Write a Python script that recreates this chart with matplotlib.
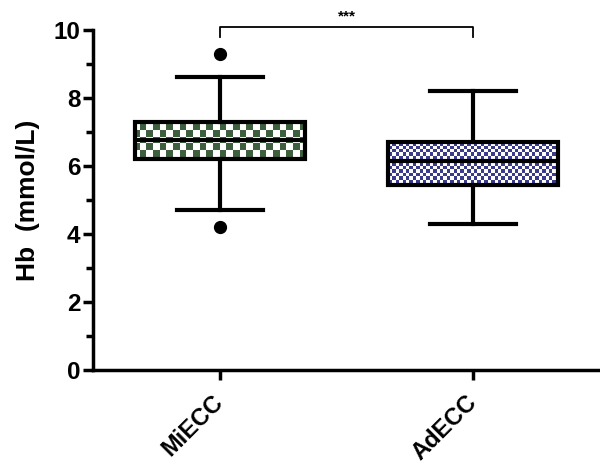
import matplotlib.pyplot as plt
import numpy as np
from matplotlib.colors import ListedColormap

plt.rcParams['font.family'] = ['Liberation Sans', 'DejaVu Sans']

groups = ['MiECC', 'AdECC']
q1 = [6.2, 5.45]
med = [6.75, 6.15]
q3 = [7.3, 6.7]
wlo = [4.7, 4.3]
whi = [8.6, 8.2]
outliers = [[9.3, 4.2], []]
colors = ['#3e5f3e', '#3b3b8c']
cell_px = [6.7, 3.4]


def checker(ax, color, cell, clip):
    # checkerboard texture covering the axes, clipped to the box
    nx = int(round(507 / cell))
    ny = int(round(340 / cell))
    board = np.indices((ny, nx)).sum(axis=0) % 2
    im = ax.imshow(board, cmap=ListedColormap(['white', color]),
                   extent=(0.5, 2.5, 0, 10), aspect='auto',
                   interpolation='nearest', zorder=1)
    im.set_clip_path(clip)


fig = plt.figure(figsize=(6, 4.67), dpi=100)
ax = fig.add_axes([0.155, 0.208, 0.845, 0.728])

stats = []
for i, g in enumerate(groups):
    stats.append(dict(label=g, q1=q1[i], med=med[i], q3=q3[i],
                      whislo=wlo[i], whishi=whi[i], fliers=outliers[i]))

bp = ax.bxp(stats, positions=[1, 2], widths=0.67, patch_artist=True,
            boxprops=dict(facecolor='none', edgecolor='black', linewidth=3, zorder=3),
            medianprops=dict(color='black', linewidth=3, zorder=3),
            whiskerprops=dict(color='black', linewidth=3),
            capprops=dict(color='black', linewidth=3),
            capwidths=0.34,
            flierprops=dict(marker='o', markerfacecolor='black',
                            markeredgecolor='black', markersize=8.5))

for i, box in enumerate(bp['boxes']):
    checker(ax, colors[i], cell_px[i], box)

ax.set_xlim(0.5, 2.5)
ax.set_ylim(0, 10)
ax.set_yticks([0, 2, 4, 6, 8, 10])
ax.set_yticks([1, 3, 5, 7, 9], minor=True)
ax.set_xticklabels(groups, rotation=45, ha='right', va='center',
                   rotation_mode='anchor', fontsize=17, fontweight='bold')
ax.tick_params(axis='y', which='major', labelsize=17.5, width=2.5, length=7, pad=2)
ax.tick_params(axis='y', which='minor', width=2.5, length=5)
ax.tick_params(axis='x', width=2.5, length=7, pad=14)
for lbl in ax.get_yticklabels():
    lbl.set_fontweight('bold')
ax.set_ylabel('Hb  (mmol/L)', fontsize=19, fontweight='bold', labelpad=10)

for s in ['top', 'right']:
    ax.spines[s].set_visible(False)
for s in ['left', 'bottom']:
    ax.spines[s].set_linewidth(2.5)

# significance bracket
ax.plot([1, 1, 2, 2], [9.8, 10.08, 10.08, 9.8], color='black', lw=1.3, clip_on=False)
ax.text(1.5, 10.2, '***', ha='center', va='bottom', fontsize=11, fontweight='bold')

fig.savefig('out.png', dpi=100)
